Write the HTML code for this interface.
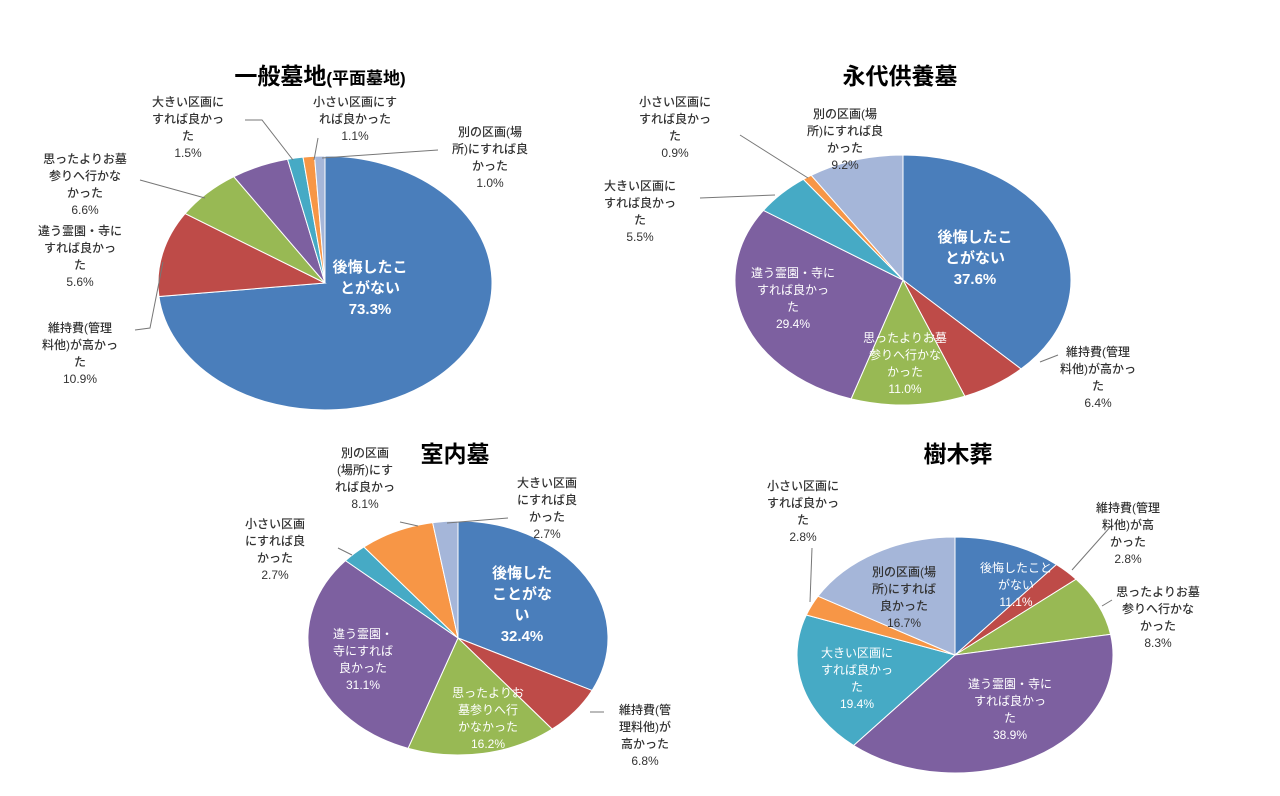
<!DOCTYPE html>
<html><head><meta charset="utf-8">
<style>
html,body{margin:0;padding:0;background:#fff;}
svg{display:block;font-family:"Liberation Sans","Noto Sans CJK JP",sans-serif;}
.t{font-size:23px;font-weight:bold;fill:#000;}
.l{font-size:12px;fill:#333;font-weight:500;}
.in{font-size:15px;font-weight:bold;fill:#fff;}
.ins{font-size:12px;fill:#fff;}
</style></head>
<body>
<svg id="c" width="1280" height="796" viewBox="0 0 1280 796">
<text class="t" x="320" y="84" text-anchor="middle">一般墓地<tspan font-size="17">(平面墓地)</tspan></text>
<text class="t" x="900" y="84" text-anchor="middle">永代供養墓</text>
<text class="t" x="455" y="462" text-anchor="middle">室内墓</text>
<text class="t" x="958" y="462" text-anchor="middle">樹木葬</text>
<g id="pies"></g>
<g id="leaders" stroke="#777" stroke-width="1" fill="none">
<polyline points="135,330 150,328 163,262"/>
<polyline points="140,180 205,198"/>
<polyline points="245,120 262,120 293,160"/>
<polyline points="318,138 314,160"/>
<polyline points="438,150 322,158"/>
<polyline points="740,135 808,178"/>
<polyline points="700,198 775,195"/>
<polyline points="1058,355 1040,362"/>
<polyline points="338,548 352,555"/>
<polyline points="400,522 418,526"/>
<polyline points="508,518 447,523"/>
<polyline points="604,712 590,712"/>
<polyline points="1112,525 1072,570"/>
<polyline points="1112,600 1102,606"/>
<polyline points="812,548 810,602"/>
</g>
<g id="labels"></g>
</svg>
<script>
const colors = ["#4a7ebb","#be4b48","#98b954","#7d60a0","#46aac5","#f79646","#a5b6d9"];
const categories = ["後悔したことがない","維持費が高かった","思ったよりお墓参りへ行かなかった","違う霊園・寺にすれば良かった","大きい区画にすれば良かった","小さい区画にすれば良かった","別の区画にすれば良かった"];
const generalValues = [73.3,10.9,6.6,5.6,1.5,1.1,1.0];
const perpetualValues = [37.6,6.4,11.0,29.4,5.5,0.9,9.2];
const indoorValues = [32.4,6.8,16.2,31.1,2.7,8.1,2.7];
const treeValues = [11.1,2.8,8.3,38.9,19.4,2.8,16.7];
const pies = [
 {name:"general", values:generalValues, cx:325, cy:283, rx:167, ry:127},
 {name:"perpetual", values:perpetualValues, cx:903, cy:280, rx:168, ry:125},
 {name:"indoor", values:indoorValues, cx:458, cy:638, rx:150, ry:117},
 {name:"tree", values:treeValues, cx:955, cy:655, rx:158, ry:118}
];
const NS="http://www.w3.org/2000/svg";
const g=document.getElementById('pies');
function pt(p,a){return [p.cx+p.rx*Math.sin(a), p.cy-p.ry*Math.cos(a)];}
pies.forEach(p=>{
 const tot=p.values.reduce((s,v)=>s+v,0);
 let acc=0;
 p.values.forEach((v,i)=>{
  const a0=acc/tot*2*Math.PI; acc+=v; const a1=acc/tot*2*Math.PI;
  const s=pt(p,a0), e=pt(p,a1);
  const large=(a1-a0)>Math.PI?1:0;
  const path=document.createElementNS(NS,'path');
  path.setAttribute('d',`M${p.cx},${p.cy} L${s[0]},${s[1]} A${p.rx},${p.ry} 0 ${large} 1 ${e[0]},${e[1]} Z`);
  path.setAttribute('fill',colors[i]);
  path.setAttribute('stroke','#fff');
  path.setAttribute('stroke-width','1');
  
  
  g.appendChild(path);
 });
});
const labels=[
 [370,272,"middle","in",["後悔したこ","とがない","73.3%"]],
 [80,332,"middle","l",["維持費(管理","料他)が高かっ","た","10.9%"]],
 [80,235,"middle","l",["違う霊園・寺に","すれば良かっ","た","5.6%"]],
 [85,163,"middle","l",["思ったよりお墓","参りへ行かな","かった","6.6%"]],
 [188,106,"middle","l",["大きい区画に","すれば良かっ","た","1.5%"]],
 [355,106,"middle","l",["小さい区画にす","れば良かった","1.1%"]],
 [490,136,"middle","l",["別の区画(場","所)にすれば良","かった","1.0%"]],
 [975,242,"middle","in",["後悔したこ","とがない","37.6%"]],
 [1098,356,"middle","l",["維持費(管理","料他)が高かっ","た","6.4%"]],
 [905,342,"middle","ins",["思ったよりお墓","参りへ行かな","かった","11.0%"]],
 [793,277,"middle","ins",["違う霊園・寺に","すれば良かっ","た","29.4%"]],
 [640,190,"middle","l",["大きい区画に","すれば良かっ","た","5.5%"]],
 [675,106,"middle","l",["小さい区画に","すれば良かっ","た","0.9%"]],
 [845,118,"middle","l",["別の区画(場","所)にすれば良","かった","9.2%"]],
 [522,578,"middle","in",["後悔した","ことがな","い","32.4%"]],
 [645,714,"middle","l",["維持費(管","理料他)が","高かった","6.8%"]],
 [488,697,"middle","ins",["思ったよりお","墓参りへ行","かなかった","16.2%"]],
 [363,638,"middle","ins",["違う霊園・","寺にすれば","良かった","31.1%"]],
 [275,528,"middle","l",["小さい区画","にすれば良","かった","2.7%"]],
 [365,457,"middle","l",["別の区画","(場所)にす","れば良かっ","8.1%"]],
 [547,487,"middle","l",["大きい区画","にすれば良","かった","2.7%"]],
 [1016,572,"middle","ins",["後悔したこと","がない","11.1%"]],
 [1128,512,"middle","l",["維持費(管理","料他)が高","かった","2.8%"]],
 [1158,596,"middle","l",["思ったよりお墓","参りへ行かな","かった","8.3%"]],
 [1010,688,"middle","ins",["違う霊園・寺に","すれば良かっ","た","38.9%"]],
 [857,657,"middle","ins",["大きい区画に","すれば良かっ","た","19.4%"]],
 [904,576,"middle","l",["別の区画(場","所)にすれば","良かった","16.7%"]],
 [803,490,"middle","l",["小さい区画に","すれば良かっ","た","2.8%"]]
];
const lg=document.getElementById('labels');
labels.forEach((L,k)=>{
 const t=document.createElementNS(NS,'text');
 t.setAttribute('x',L[0]);t.setAttribute('y',L[1]);
 t.setAttribute('text-anchor',L[2]);t.setAttribute('class',L[3]);
 
 
 const lh=L[3]==="in"?21:17;
 L[4].forEach((s,j)=>{const ts=document.createElementNS(NS,'tspan');ts.setAttribute('x',L[0]);ts.setAttribute('dy',j?lh:0);ts.textContent=s;t.appendChild(ts);});
 lg.appendChild(t);
});
</script>
</body></html>
